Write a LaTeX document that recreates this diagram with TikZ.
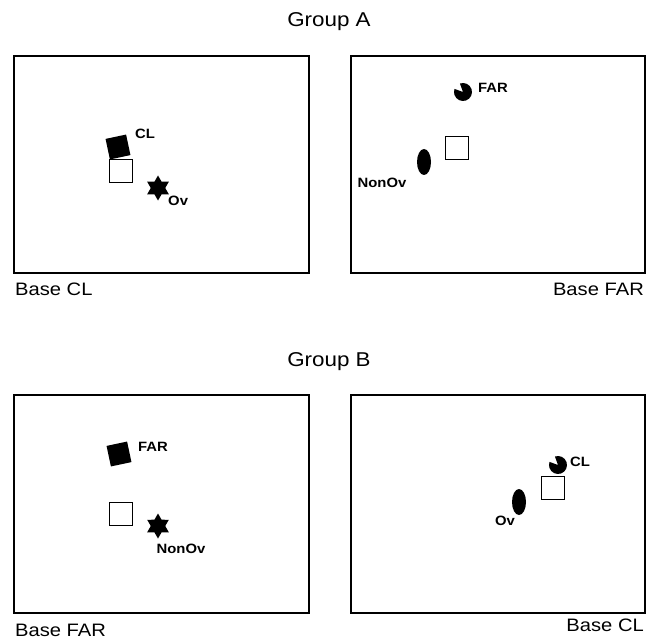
\documentclass[tikz,border=0pt]{standalone}
\usepackage{fontspec}
\setmainfont{Liberation Sans}
\usetikzlibrary{shapes.geometric}
\newcommand{\wideA}[1]{\scalebox{1.12}[1]{#1}}
\newcommand{\wideB}[1]{\scalebox{1.1}[1]{#1}}
\begin{document}
\begin{tikzpicture}[x=1pt,y=-1pt,
  frame/.style={draw,line width=1.5pt},
  title/.style={font=\fontsize{20}{24}\selectfont},
  base/.style={font=\fontsize{18}{22}\selectfont,inner sep=0pt},
  lbl/.style={font=\bfseries\fontsize{13.5}{16}\selectfont,inner sep=0pt},
  opensq/.style={draw,line width=0.9pt,minimum size=23pt,inner sep=0pt},
  fillsq/.style={fill=black,minimum size=21pt,inner sep=0pt,rotate=12},
  hexstar/.style={star,star points=6,star point ratio=1.73,fill=black,minimum size=25pt,inner sep=0pt},
  oval/.style={ellipse,fill=black,minimum width=14pt,minimum height=26pt,inner sep=0pt}]
\useasboundingbox (0,0) rectangle (658,639);
% titles
\node[title] (ga) at (329,22) {\wideA{Group A}};
\node[title] (gb) at (329,362) {\wideA{Group B}};
% frames
\draw[frame] (14,56) rectangle (309,273);
\draw[frame] (351,56) rectangle (645,273);
\draw[frame] (14,395) rectangle (309,613);
\draw[frame] (351,395) rectangle (645,613);
% base labels
\node[base,anchor=base west] (b1) at (15,295) {\wideA{Base CL}};
\node[base,anchor=base east] (b2) at (644,295) {\wideA{Base FAR}};
\node[base,anchor=base west] (b3) at (15,636) {\wideA{Base FAR}};
\node[base,anchor=base east] (b4) at (644,631) {\wideA{Base CL}};
% top-left panel
\node[fillsq] (tlf) at (118,147) {};
\node[opensq] (tlo) at (121,171) {};
\node[hexstar] (tls) at (158,188) {};
\node[lbl,anchor=west] (tlcl) at (135,134) {\wideB{CL}};
\node[lbl,anchor=west] (tlov) at (168,201) {\wideB{Ov}};
% top-right panel
\fill (463,92) -- ++(250:9) arc (250:560:9) -- cycle;
\node[lbl,anchor=west] (trfar) at (478,88) {\wideB{FAR}};
\node[opensq] (tro) at (457,148) {};
\node[oval] (tre) at (424,162) {};
\node[lbl,anchor=center] (trnon) at (382,183) {\wideB{NonOv}};
% bottom-left panel
\node[fillsq] (blf) at (119,454) {};
\node[lbl,anchor=west] (blfar) at (138,447) {\wideB{FAR}};
\node[opensq] (blo) at (121,514) {};
\node[hexstar] (bls) at (158,526) {};
\node[lbl,anchor=center] (blnon) at (181,549) {\wideB{NonOv}};
% bottom-right panel
\fill (558,465) -- ++(250:9) arc (250:560:9) -- cycle;
\node[lbl,anchor=west] (brcl) at (570,462) {\wideB{CL}};
\node[opensq] (bro) at (553,488) {};
\node[oval] (bre) at (519,502) {};
\node[lbl,anchor=center] (brov) at (505,521) {\wideB{Ov}};
\end{tikzpicture}
\end{document}
